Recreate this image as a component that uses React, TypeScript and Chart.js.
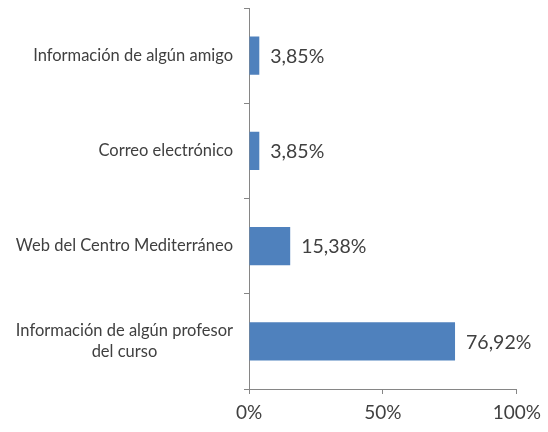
import React, { useEffect, useRef } from "react";
import { Chart, registerables } from "chart.js";

Chart.register(...registerables);

const categories: string[][] = [
  ["Información de algún amigo"],
  ["Correo electrónico"],
  ["Web del Centro Mediterráneo"],
  ["Información de algún profesor", "del curso"],
];
const values: number[] = [0.0385, 0.0385, 0.1538, 0.7692];
const valueLabels: string[] = ["3,85%", "3,85%", "15,38%", "76,92%"];
const xTicks: number[] = [0, 0.5, 1];

const FONT = "Lato, 'Open Sans', sans-serif";
const TEXT = "#404040";
const AXIS = "#868686";

const labelPlugin = {
  id: "customLabels",
  afterDraw(chart: any) {
    const ctx = chart.ctx;
    const y = chart.scales.y;
    const x = chart.scales.x;
    ctx.save();
    // category labels
    ctx.fillStyle = TEXT;
    ctx.font = `16.5px ${FONT}`;
    ctx.textBaseline = "middle";
    const right = chart.chartArea.left - 16;
    const lh = 21;
    categories.forEach((lines, i) => {
      const cy = y.getPixelForValue(i);
      if (lines.length === 1) {
        ctx.textAlign = "right";
        ctx.fillText(lines[0], right, cy);
      } else {
        const w = Math.max(...lines.map((l) => ctx.measureText(l).width));
        const cx = right - w / 2;
        ctx.textAlign = "center";
        lines.forEach((l, j) => {
          ctx.fillText(l, cx, cy + (j - (lines.length - 1) / 2) * lh);
        });
      }
    });
    // value labels
    ctx.font = `19.5px ${FONT}`;
    ctx.textAlign = "left";
    values.forEach((v, i) => {
      const px = x.getPixelForValue(v);
      const cy = y.getPixelForValue(i);
      ctx.fillText(valueLabels[i], px + 11, cy + 1);
    });
    ctx.restore();
  },
};

export default function App() {
  const ref = useRef<HTMLCanvasElement>(null);
  useEffect(() => {
    if (!ref.current) return;
    const chart = new Chart(ref.current, {
      type: "bar",
      data: {
        labels: categories.map((c) => c.join(" ")),
        datasets: [
          {
            data: values,
            backgroundColor: "#4F81BD",
            borderWidth: 0,
            barPercentage: 0.8,
            categoryPercentage: 0.5,
          },
        ],
      },
      options: {
        indexAxis: "y",
        animation: false,
        responsive: false,
        maintainAspectRatio: false,
        layout: { padding: { top: 8, right: 30, bottom: 0, left: 0 } },
        plugins: {
          legend: { display: false },
          tooltip: { enabled: false },
        },
        scales: {
          x: {
            min: 0,
            max: 1,
            afterBuildTicks: (scale: any) => {
              scale.ticks = xTicks.map((v) => ({ value: v }));
            },
            afterFit: (scale: any) => {
              scale.height = 43;
            },
            ticks: {
              callback: (v: any) => Math.round(Number(v) * 100) + "%",
              font: { family: FONT, size: 19 },
              color: TEXT,
              padding: 7,
              maxRotation: 0,
            },
            grid: {
              display: true,
              drawOnChartArea: false,
              drawTicks: true,
              tickLength: 5,
              color: AXIS,
            },
            border: { display: true, color: AXIS },
          },
          y: {
            afterFit: (scale: any) => {
              scale.width = 249;
            },
            ticks: { display: false },
            grid: {
              display: true,
              drawOnChartArea: false,
              drawTicks: true,
              tickLength: 5,
              color: AXIS,
              offset: true,
            },
            border: { display: true, color: AXIS },
          },
        },
      },
      plugins: [labelPlugin],
    });
    return () => chart.destroy();
  }, []);
  return (
    <div style={{ position: "fixed", left: 0, top: 0, width: 548, height: 432, background: "#fff" }}>
      <canvas ref={ref} width={548} height={432} />
    </div>
  );
}
